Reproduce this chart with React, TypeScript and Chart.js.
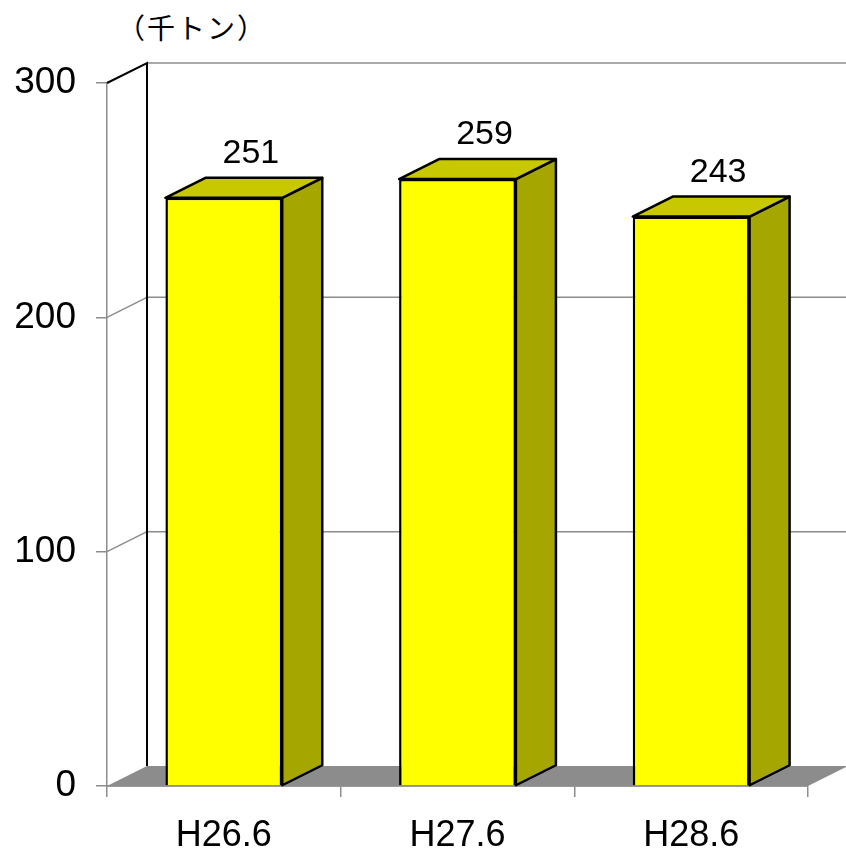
import React, { useEffect, useRef } from "react";
import { Chart, registerables } from "chart.js";

Chart.register(...registerables);

const categories: string[] = ["H26.6", "H27.6", "H28.6"];
const values: number[] = [251, 259, 243];
const yTicks: number[] = [0, 100, 200, 300];
const unitLabel = "（千トン）";

const DX = 40;
const DY = -20;
const FONT = '"Liberation Sans", Arial, Helvetica, sans-serif';
const GRID = "#8c8c8c";
const FLOOR = "#8c8c8c";
const FRONT = "#ffff00";
const TOP = "#c8c800";
const SIDE = "#a6a600";

const threeD = {
  id: "threeD",
  beforeDatasetsDraw(chart: any) {
    const { ctx, chartArea: a, scales } = chart;
    const y = scales.y;
    const y0 = y.getPixelForValue(yTicks[0]);
    const yMax = y.getPixelForValue(yTicks[yTicks.length - 1]);
    ctx.save();
    ctx.fillStyle = FLOOR;
    ctx.beginPath();
    ctx.moveTo(a.left, y0);
    ctx.lineTo(a.right, y0);
    ctx.lineTo(a.right + DX, y0 + DY);
    ctx.lineTo(a.left + DX, y0 + DY);
    ctx.closePath();
    ctx.fill();
    ctx.strokeStyle = GRID;
    ctx.lineWidth = 1.5;
    for (const v of yTicks) {
      const py = y.getPixelForValue(v);
      if (v !== yTicks[0]) {
        ctx.beginPath();
        ctx.moveTo(a.left + DX, py + DY);
        ctx.lineTo(a.right + DX, py + DY);
        ctx.stroke();
      }
      if (v !== yTicks[yTicks.length - 1] && v !== yTicks[0]) {
        ctx.beginPath();
        ctx.moveTo(a.left, py);
        ctx.lineTo(a.left + DX, py + DY);
        ctx.stroke();
      }
    }
    ctx.beginPath();
    ctx.moveTo(a.left, y0);
    ctx.lineTo(a.right, y0);
    ctx.stroke();
    ctx.strokeStyle = "#000";
    ctx.lineWidth = 2;
    ctx.beginPath();
    ctx.moveTo(a.left, yMax);
    ctx.lineTo(a.left + DX, yMax + DY);
    ctx.lineTo(a.left + DX, y0 + DY);
    ctx.stroke();
    ctx.restore();
  },
  afterDatasetsDraw(chart: any) {
    const { ctx } = chart;
    const meta = chart.getDatasetMeta(0);
    ctx.save();
    ctx.lineWidth = 2.5;
    ctx.strokeStyle = "#000";
    ctx.lineJoin = "round";
    meta.data.forEach((bar: any, i: number) => {
      const l = bar.x - bar.width / 2;
      const r = bar.x + bar.width / 2;
      const t = bar.y;
      const b = bar.base;
      ctx.fillStyle = SIDE;
      ctx.beginPath();
      ctx.moveTo(r, t);
      ctx.lineTo(r + DX, t + DY);
      ctx.lineTo(r + DX, b + DY);
      ctx.lineTo(r, b);
      ctx.closePath();
      ctx.fill();
      ctx.stroke();
      ctx.fillStyle = TOP;
      ctx.beginPath();
      ctx.moveTo(l, t);
      ctx.lineTo(l + DX, t + DY);
      ctx.lineTo(r + DX, t + DY);
      ctx.lineTo(r, t);
      ctx.closePath();
      ctx.fill();
      ctx.stroke();
      ctx.fillStyle = "#000";
      ctx.font = `34px ${FONT}`;
      ctx.textAlign = "center";
      ctx.textBaseline = "middle";
      ctx.fillText(String(values[i]), bar.x + 27, t + DY - 24);
    });
    ctx.restore();
  },
};

export default function App() {
  const ref = useRef<HTMLCanvasElement | null>(null);
  useEffect(() => {
    if (!ref.current) return;
    const chart = new Chart(ref.current, {
      type: "bar",
      data: {
        labels: categories,
        datasets: [
          {
            data: values,
            backgroundColor: FRONT,
            borderColor: "#000",
            borderWidth: 2.5,
            barPercentage: 0.5,
            categoryPercentage: 1,
          },
        ],
      },
      options: {
        animation: false,
        responsive: false,
        devicePixelRatio: 1,
        layout: { padding: { top: 83, right: 38, left: 0, bottom: 0 } },
        plugins: { legend: { display: false }, tooltip: { enabled: false } },
        scales: {
          x: {
            offset: true,
            afterFit: (s: any) => {
              s.height = 65;
            },
            grid: {
              display: true,
              drawOnChartArea: false,
              drawTicks: true,
              tickLength: 11,
              color: GRID,
              lineWidth: 1.5,
              offset: true,
            },
            border: { display: true, color: GRID, width: 1.5 },
            ticks: {
              color: "#000",
              font: { size: 36, family: FONT },
              padding: 17,
              maxRotation: 0,
            },
          },
          y: {
            min: yTicks[0],
            max: yTicks[yTicks.length - 1],
            afterBuildTicks: (s: any) => {
              s.ticks = yTicks.map((v) => ({ value: v }));
            },
            afterFit: (s: any) => {
              s.width = 107;
            },
            grid: {
              display: true,
              drawOnChartArea: false,
              drawTicks: true,
              tickLength: 11,
              color: GRID,
              lineWidth: 1.5,
            },
            border: { display: true, color: GRID, width: 1.5 },
            ticks: {
              color: "#000",
              font: { size: 37, family: FONT },
              padding: 20,
            },
          },
        },
      },
      plugins: [threeD],
    });
    return () => chart.destroy();
  }, []);
  return (
    <div style={{ position: "absolute", left: 0, top: 0, width: 846, height: 851, background: "#fff" }}>
      <div
        style={{
          position: "absolute",
          left: 117,
          top: 7,
          fontFamily: '"Noto Sans CJK JP", serif',
          fontSize: 28,
          letterSpacing: 2,
          lineHeight: "40px",
          color: "#000",
          whiteSpace: "nowrap",
        }}
      >
        {unitLabel}
      </div>
      <canvas ref={ref} width={846} height={851} style={{ position: "absolute", left: 0, top: 0, width: 846, height: 851 }} />
    </div>
  );
}
